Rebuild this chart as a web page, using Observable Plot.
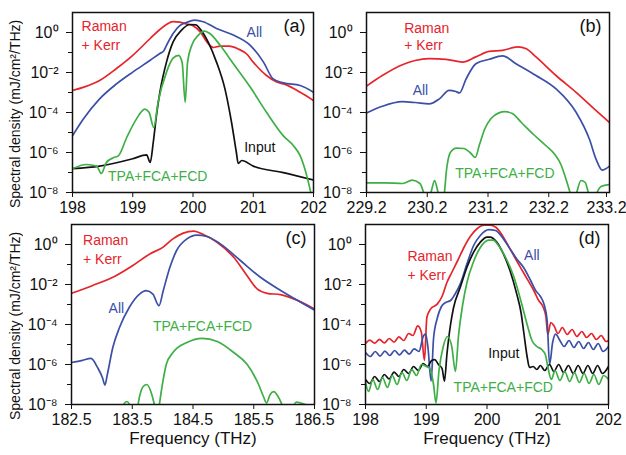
<!DOCTYPE html>
<html><head><meta charset="utf-8">
<script src="https://cdn.jsdelivr.net/npm/d3@7"></script>
<script src="https://cdn.jsdelivr.net/npm/@observablehq/plot@0.6"></script>
<style>
body{margin:0;background:#fff;}
#chart{position:relative;width:626px;height:455px;overflow:hidden;background:#fff;}
#chart svg{position:absolute;overflow:visible;}
.ytitle{position:absolute;left:7px;width:16px;height:200px;writing-mode:vertical-rl;transform:rotate(180deg);text-align:center;white-space:nowrap;font-family:'Liberation Sans',Arial,Helvetica,sans-serif;font-size:14px;line-height:16px;color:#111;}
</style></head><body><div id="chart"></div>
<script>
// ---- data: [frequency (THz), log10 spectral density] ----
const a_raman = [[198,-2.9],[198.2,-2.72],[198.45,-2.4],[198.73,-1.8],[199.0,-1.14],[199.29,-0.3],[199.45,0.15],[199.56,0.4],[199.67,0.54],[199.78,0.52],[199.9,0.42],[200.0,0.34],[200.12,0.03],[200.23,-0.47],[200.34,-0.75],[200.45,-0.68],[200.6,-0.68],[200.75,-0.82],[200.9,-1.1],[201.0,-1.48],[201.22,-2.15],[201.39,-2.48],[201.55,-2.62],[201.78,-2.99],[202,-3.4]];
const a_all = [[198,-5.17],[198.18,-4.33],[198.45,-3.32],[198.73,-2.57],[199.0,-1.98],[199.29,-1.39],[199.45,-1.05],[199.51,-0.94],[199.56,-0.64],[199.67,-0.05],[199.78,0.34],[199.89,0.5],[200.03,0.62],[200.17,0.54],[200.39,0.2],[200.67,-0.13],[200.95,-0.64],[201.17,-1.48],[201.33,-2.32],[201.5,-2.52],[201.78,-2.65],[202,-2.99]];
const a_input = [[198,-6.81],[198.45,-6.68],[199.0,-6.31],[199.23,-6.12],[199.29,-6.5],[199.34,-5.5],[199.4,-4.0],[199.45,-2.99],[199.56,-1.48],[199.67,-0.47],[199.81,0.12],[199.95,0.4],[200.05,0.38],[200.12,0.17],[200.25,-0.47],[200.39,-1.48],[200.53,-2.82],[200.64,-4.5],[200.72,-6.0],[200.75,-6.55],[200.81,-6.4],[201.0,-6.68],[201.5,-7.01],[202,-7.38]];
const a_tpa = [[198,-6.81],[198.23,-6.6],[198.4,-6.68],[198.48,-7.05],[198.56,-6.51],[198.68,-6.26],[198.76,-6.17],[198.9,-5.25],[199.06,-4.33],[199.2,-3.83],[199.27,-3.99],[199.35,-4.75],[199.42,-3.49],[199.56,-1.98],[199.67,-1.28],[199.76,-1.14],[199.82,-1.5],[199.87,-3.49],[199.91,-1.48],[199.98,-0.64],[200.09,-0.13],[200.19,0.07],[200.28,-0.05],[200.45,-0.64],[200.67,-1.56],[200.95,-2.73],[201.22,-3.99],[201.5,-5.17],[201.67,-5.67],[201.78,-6.17],[201.89,-7.18],[201.97,-8.2],[202,-8.6]];

const b_raman = [[229.2,-2.68],[229.46,-2.15],[229.79,-1.61],[230.0,-1.4],[230.23,-1.31],[230.51,-1.34],[230.78,-1.48],[231.0,-1.22],[231.22,-0.94],[231.44,-0.89],[231.69,-0.72],[231.83,-0.81],[231.99,-1.22],[232.32,-2.15],[232.65,-2.99],[232.98,-3.91],[233.2,-4.5]];
const b_all = [[229.2,-4.03],[229.46,-3.69],[229.79,-3.46],[230.0,-3.5],[230.23,-3.57],[230.4,-3.32],[230.56,-2.89],[230.67,-2.95],[230.73,-3.02],[230.84,-2.32],[231.0,-1.56],[231.22,-1.34],[231.44,-1.17],[231.66,-1.56],[231.99,-2.15],[232.32,-2.82],[232.65,-3.99],[232.87,-5.34],[232.98,-6.34],[233.08,-6.88],[233.2,-6.68]];
const b_tpa = [[229.2,-7.52],[229.5,-7.52],[229.8,-7.55],[229.95,-7.38],[230.08,-7.55],[230.15,-8.1],[230.2,-8.6],[230.27,-7.9],[230.32,-7.4],[230.37,-7.9],[230.42,-8.6],[230.47,-8.3],[230.52,-6.8],[230.58,-6.0],[230.68,-5.78],[230.8,-5.8],[230.92,-6.05],[230.99,-6.25],[231.06,-5.6],[231.15,-4.8],[231.25,-4.3],[231.38,-4.02],[231.48,-3.96],[231.6,-4.05],[231.75,-4.5],[231.95,-5.1],[232.15,-5.65],[232.3,-6.1],[232.4,-6.6],[232.48,-7.3],[232.55,-8.0],[232.6,-8.6],[232.66,-8.0],[232.73,-7.4],[232.8,-7.5],[232.86,-8.1],[232.92,-8.6],[232.98,-8.1],[233.06,-7.7],[233.2,-7.6]];

const c_raman = [[182.5,-2.44],[182.84,-2.06],[183.23,-1.56],[183.51,-1.05],[183.79,-0.47],[184.01,-0.13],[184.17,0.28],[184.34,0.57],[184.51,0.67],[184.67,0.5],[184.89,0.12],[185.17,-0.64],[185.39,-1.56],[185.56,-2.23],[185.72,-2.44],[185.94,-2.51],[186.17,-2.73],[186.5,-3.22]];
const c_all = [[182.5,-5.9],[182.68,-5.79],[182.82,-5.69],[182.93,-6.16],[183.01,-6.66],[183.05,-7.03],[183.09,-6.5],[183.18,-5.15],[183.29,-4.15],[183.45,-3.15],[183.62,-2.48],[183.73,-2.31],[183.84,-2.48],[183.94,-3.06],[184.01,-2.31],[184.12,-1.14],[184.23,-0.3],[184.4,0.28],[184.56,0.47],[184.73,0.4],[184.95,0.03],[185.28,-0.8],[185.61,-1.64],[185.95,-2.31],[186.28,-2.9],[186.5,-3.28]];
const c_tpa = [[183.28,-8.6],[183.34,-8.1],[183.41,-7.85],[183.47,-8.1],[183.52,-8.6],[183.57,-8.4],[183.62,-7.6],[183.68,-7.1],[183.74,-7.0],[183.8,-7.3],[183.86,-7.95],[183.9,-8.6],[183.93,-8.3],[183.98,-7.3],[184.06,-6.0],[184.17,-5.4],[184.4,-4.9],[184.65,-4.69],[184.9,-4.85],[185.17,-5.4],[185.39,-5.99],[185.58,-7.0],[185.66,-7.6],[185.71,-7.92],[185.77,-7.5],[185.83,-7.36],[185.9,-7.6],[185.97,-8.05],[186.03,-8.6],[186.12,-8.3],[186.2,-7.88],[186.3,-7.95],[186.4,-8.05],[186.5,-8.0]];

const d_raman = [[198.0,-4.95],[198.07,-4.78],[198.15,-4.93],[198.23,-4.74],[198.31,-4.92],[198.39,-4.7],[198.47,-4.88],[198.55,-4.62],[198.63,-4.8],[198.71,-4.45],[198.78,-4.55],[198.86,-4.07],[198.92,-4.4],[198.97,-5.8],[199.01,-3.65],[199.07,-3.23],[199.18,-2.98],[199.26,-2.6],[199.34,-1.9],[199.42,-1.4],[199.51,-0.85],[199.62,-0.15],[199.73,0.42],[199.84,0.8],[199.95,0.97],[200.05,0.97],[200.15,0.85],[200.22,0.6],[200.33,0.05],[200.44,-0.55],[200.55,-1.14],[200.66,-1.72],[200.77,-2.3],[200.85,-2.8],[200.92,-3.1],[200.97,-3.6],[201.0,-4.5],[201.05,-3.9],[201.1,-4.05],[201.17,-4.45],[201.24,-4.15],[201.32,-4.5],[201.4,-4.25],[201.48,-4.6],[201.56,-4.35],[201.64,-4.65],[201.72,-4.45],[201.8,-4.75],[201.88,-4.55],[201.96,-4.85],[202,-4.8]];
const d_all = [[198.0,-5.4],[198.08,-5.6],[198.16,-5.35],[198.24,-5.58],[198.32,-5.33],[198.4,-5.55],[198.48,-5.3],[198.56,-5.52],[198.64,-5.28],[198.72,-5.48],[198.8,-5.22],[198.88,-5.35],[198.95,-4.6],[198.99,-4.47],[199.03,-5.2],[199.08,-6.83],[199.12,-4.7],[199.18,-3.7],[199.25,-3.1],[199.32,-2.9],[199.4,-2.8],[199.47,-2.5],[199.56,-1.97],[199.67,-0.97],[199.78,-0.05],[199.89,0.45],[200.03,0.74],[200.14,0.7],[200.25,0.37],[200.36,-0.13],[200.49,-0.72],[200.6,-1.14],[200.71,-1.75],[200.8,-2.3],[200.88,-2.6],[200.94,-3.0],[200.99,-3.8],[201.03,-6.0],[201.08,-4.9],[201.13,-4.48],[201.2,-4.8],[201.27,-5.1],[201.35,-4.8],[201.43,-5.15],[201.51,-4.85],[201.59,-5.2],[201.67,-4.9],[201.75,-5.25],[201.83,-4.95],[201.91,-5.35],[202,-5.1]];
const d_input = [[198.0,-6.75],[198.07,-6.95],[198.15,-6.6],[198.23,-6.85],[198.31,-6.5],[198.39,-6.72],[198.47,-6.38],[198.55,-6.6],[198.63,-6.25],[198.71,-6.45],[198.79,-6.1],[198.87,-6.3],[198.95,-5.95],[199.02,-6.1],[199.09,-5.8],[199.14,-5.76],[199.2,-6.0],[199.26,-6.2],[199.3,-6.83],[199.34,-5.5],[199.4,-4.0],[199.45,-3.15],[199.56,-2.14],[199.67,-1.14],[199.78,-0.38],[199.89,0.12],[200.0,0.37],[200.05,0.37],[200.16,0.12],[200.27,-0.47],[200.38,-1.31],[200.49,-2.48],[200.56,-3.4],[200.61,-4.5],[200.66,-5.6],[200.7,-6.15],[200.76,-6.1],[200.82,-6.25],[200.88,-6.05],[200.95,-6.3],[201.03,-6.0],[201.1,-6.35],[201.18,-6.0],[201.26,-6.4],[201.34,-6.05],[201.42,-6.45],[201.5,-6.05],[201.58,-6.45],[201.66,-6.05],[201.74,-6.45],[201.82,-6.05],[201.9,-6.45],[202,-6.1]];
const d_tpa = [[198.0,-6.9],[198.05,-7.35],[198.12,-6.75],[198.2,-7.25],[198.28,-6.65],[198.36,-7.15],[198.44,-6.55],[198.52,-7.0],[198.6,-6.4],[198.68,-6.8],[198.76,-6.25],[198.84,-6.55],[198.92,-6.0],[199.0,-6.1],[199.06,-6.2],[199.12,-7.0],[199.16,-7.92],[199.21,-6.3],[199.28,-5.1],[199.35,-4.6],[199.42,-5.1],[199.48,-6.35],[199.53,-4.6],[199.6,-3.0],[199.67,-1.9],[199.78,-0.85],[199.89,-0.15],[200.03,0.22],[200.1,0.22],[200.19,-0.05],[200.33,-0.8],[200.44,-1.6],[200.52,-2.4],[200.6,-3.3],[200.67,-4.1],[200.74,-4.8],[200.82,-5.1],[200.9,-5.25],[200.96,-5.5],[201.0,-6.1],[201.06,-6.75],[201.12,-6.3],[201.2,-6.8],[201.28,-6.35],[201.36,-6.85],[201.44,-6.4],[201.52,-6.9],[201.6,-6.45],[201.68,-6.95],[201.76,-6.5],[201.84,-7.0],[201.92,-6.55],[202,-6.75]];

// ---- labels and ticks ----
const a_labels = [{s:"raman",t:"Raman",f:198.15,v:0.29},{s:"raman",t:"+ Kerr",f:198.15,v:-0.64},{s:"all",t:"All",f:200.89,v:0.0},{s:"input",t:"Input",f:200.85,v:-5.74},{s:"tpa",t:"TPA+FCA+FCD",f:198.59,v:-7.2}];
const b_labels = [{s:"raman",t:"Raman",f:229.82,v:0.2},{s:"raman",t:"+ Kerr",f:229.82,v:-0.67},{s:"all",t:"All",f:229.96,v:-2.9},{s:"tpa",t:"TPA+FCA+FCD",f:230.66,v:-7.03}];
const c_labels = [{s:"raman",t:"Raman",f:182.69,v:0.19},{s:"raman",t:"+ Kerr",f:182.69,v:-0.77},{s:"all",t:"All",f:183.11,v:-3.18},{s:"tpa",t:"TPA+FCA+FCD",f:183.84,v:-4.12}];
const d_labels = [{s:"raman",t:"Raman",f:198.69,v:-0.6},{s:"raman",t:"+ Kerr",f:198.69,v:-1.56},{s:"all",t:"All",f:200.61,v:-0.55},{s:"input",t:"Input",f:200.02,v:-5.46},{s:"tpa",t:"TPA+FCA+FCD",f:199.45,v:-7.16}];

const ticks_ad = [198,199,200,201,202];
const ticks_b = [229.2,230.2,231.2,232.2,233.2];
const ticks_c = [182.5,183.5,184.5,185.5,186.5];
const yMajor = [1e0,1e-2,1e-4,1e-6,1e-8];
const yMinor = [1e-1,1e-3,1e-5,1e-7];
const panelTags = ["(a)","(b)","(c)","(d)"];
const yTitle = "Spectral density (mJ/cm\u00B2/THz)";
const xTitle = "Frequency (THz)";

// ---- styles ----
const COLORS = {raman:"#e5242b", all:"#3b4fa6", input:"#111111", tpa:"#3daf45"};
const FONT = "'Liberation Sans', Arial, Helvetica, sans-serif";
const SUP = {"0":"\u2070","1":"\u00B9","2":"\u00B2","3":"\u00B3","4":"\u2074","5":"\u2075","6":"\u2076","7":"\u2077","8":"\u2078","9":"\u2079","-":"\u207B"};
const powFmt = d => "10" + String(Math.round(Math.log10(d))).split("").map(c => SUP[c]).join("");

function panel(cfg) {
  const marks = [];
  const order = ["raman","all","input","tpa"];
  for (const k of order) {
    if (!cfg.series[k]) continue;
    marks.push(Plot.line(cfg.series[k], {x: d => d[0], y: d => 10 ** d[1], stroke: COLORS[k], strokeWidth: 1.7, curve: "monotone-x", clip: true}));
  }
  marks.push(Plot.text(cfg.labels, {x: "f", y: d => 10 ** d.v, text: "t", fill: d => COLORS[d.s], textAnchor: "start", fontSize: 14}));
  marks.push(Plot.text([cfg.tag], {frameAnchor: "top-right", dx: -8, dy: 7, lineAnchor: "top", fontSize: 18, fill: "#111"}));
  marks.push(Plot.axisY({ticks: yMajor, tickFormat: powFmt, tickSize: 6, tickPadding: 8, fontSize: 16, label: null, color: "#111"}));
  marks.push(Plot.axisY({ticks: yMinor, tickFormat: () => "", tickSize: 4, label: null, color: "#111"}));
  const inner = cfg.xTicks.slice(0, -1), last = cfg.xTicks.slice(-1);
  marks.push(Plot.axisX({ticks: inner, tickFormat: cfg.xFmt, tickSize: 5, tickPadding: 4, fontSize: 16, label: null, color: "#111"}));
  marks.push(Plot.axisX({ticks: last, tickFormat: cfg.xFmt, tickSize: 5, tickPadding: 4, fontSize: 16, label: null, color: "#111", dx: cfg.lastDx || 0}));
  marks.push(Plot.frame({stroke: "#111", strokeWidth: 1.5}));
  if (cfg.xTitle) marks.push(Plot.text([xTitle], {frameAnchor: "bottom", dy: 39, fontSize: 17, fill: "#111"}));
  const svg = Plot.plot({
    width: cfg.width, height: cfg.height,
    marginLeft: cfg.ml, marginRight: cfg.mr, marginTop: cfg.mt, marginBottom: cfg.mb,
    x: {domain: cfg.xDomain, label: null},
    y: {type: "log", domain: [1e-8, 1e1], label: null},
    style: {fontFamily: FONT, fontSize: "16px", background: "transparent", overflow: "visible", color: "#111"},
    marks
  });
  svg.style.left = cfg.left + "px";
  svg.style.top = cfg.top + "px";
  return svg;
}

const chart = document.getElementById("chart");
const cfgs = [
  {tag: panelTags[0], left: 0, top: 0, width: 318, height: 220, ml: 72, mr: 5, mt: 12, mb: 28, xDomain: [198,202], xTicks: ticks_ad, xFmt: d => String(d), series: {raman: a_raman, all: a_all, input: a_input, tpa: a_tpa}, labels: a_labels, yTitle: true, xTitle: false},
  {tag: panelTags[1], left: 318, top: 0, width: 308, height: 220, ml: 48, mr: 17, mt: 12, mb: 28, xDomain: [229.2,233.2], xTicks: ticks_b, xFmt: d => d.toFixed(1), lastDx: -3, series: {raman: b_raman, all: b_all, tpa: b_tpa}, labels: b_labels, yTitle: false, xTitle: false},
  {tag: panelTags[2], left: 0, top: 212, width: 318, height: 243, ml: 71, mr: 4, mt: 12, mb: 51, xDomain: [182.5,186.5], xTicks: ticks_c, xFmt: d => d.toFixed(1), series: {raman: c_raman, all: c_all, tpa: c_tpa}, labels: c_labels, yTitle: true, xTitle: true},
  {tag: panelTags[3], left: 318, top: 212, width: 308, height: 243, ml: 47, mr: 18, mt: 12, mb: 51, xDomain: [198,202], xTicks: ticks_ad, xFmt: d => String(d), series: {raman: d_raman, all: d_all, input: d_input, tpa: d_tpa}, labels: d_labels, yTitle: false, xTitle: true}
];
for (const c of cfgs) {
  chart.appendChild(panel(c));
  if (c.yTitle) {
    const div = document.createElement("div");
    div.className = "ytitle";
    div.textContent = yTitle;
    // centre the rotated title 12px below the middle of the panel frame
    div.style.top = (c.top + c.mt + (c.height - c.mt - c.mb) / 2 + 12 - 100) + "px";
    chart.appendChild(div);
  }
}
</script></body></html>
